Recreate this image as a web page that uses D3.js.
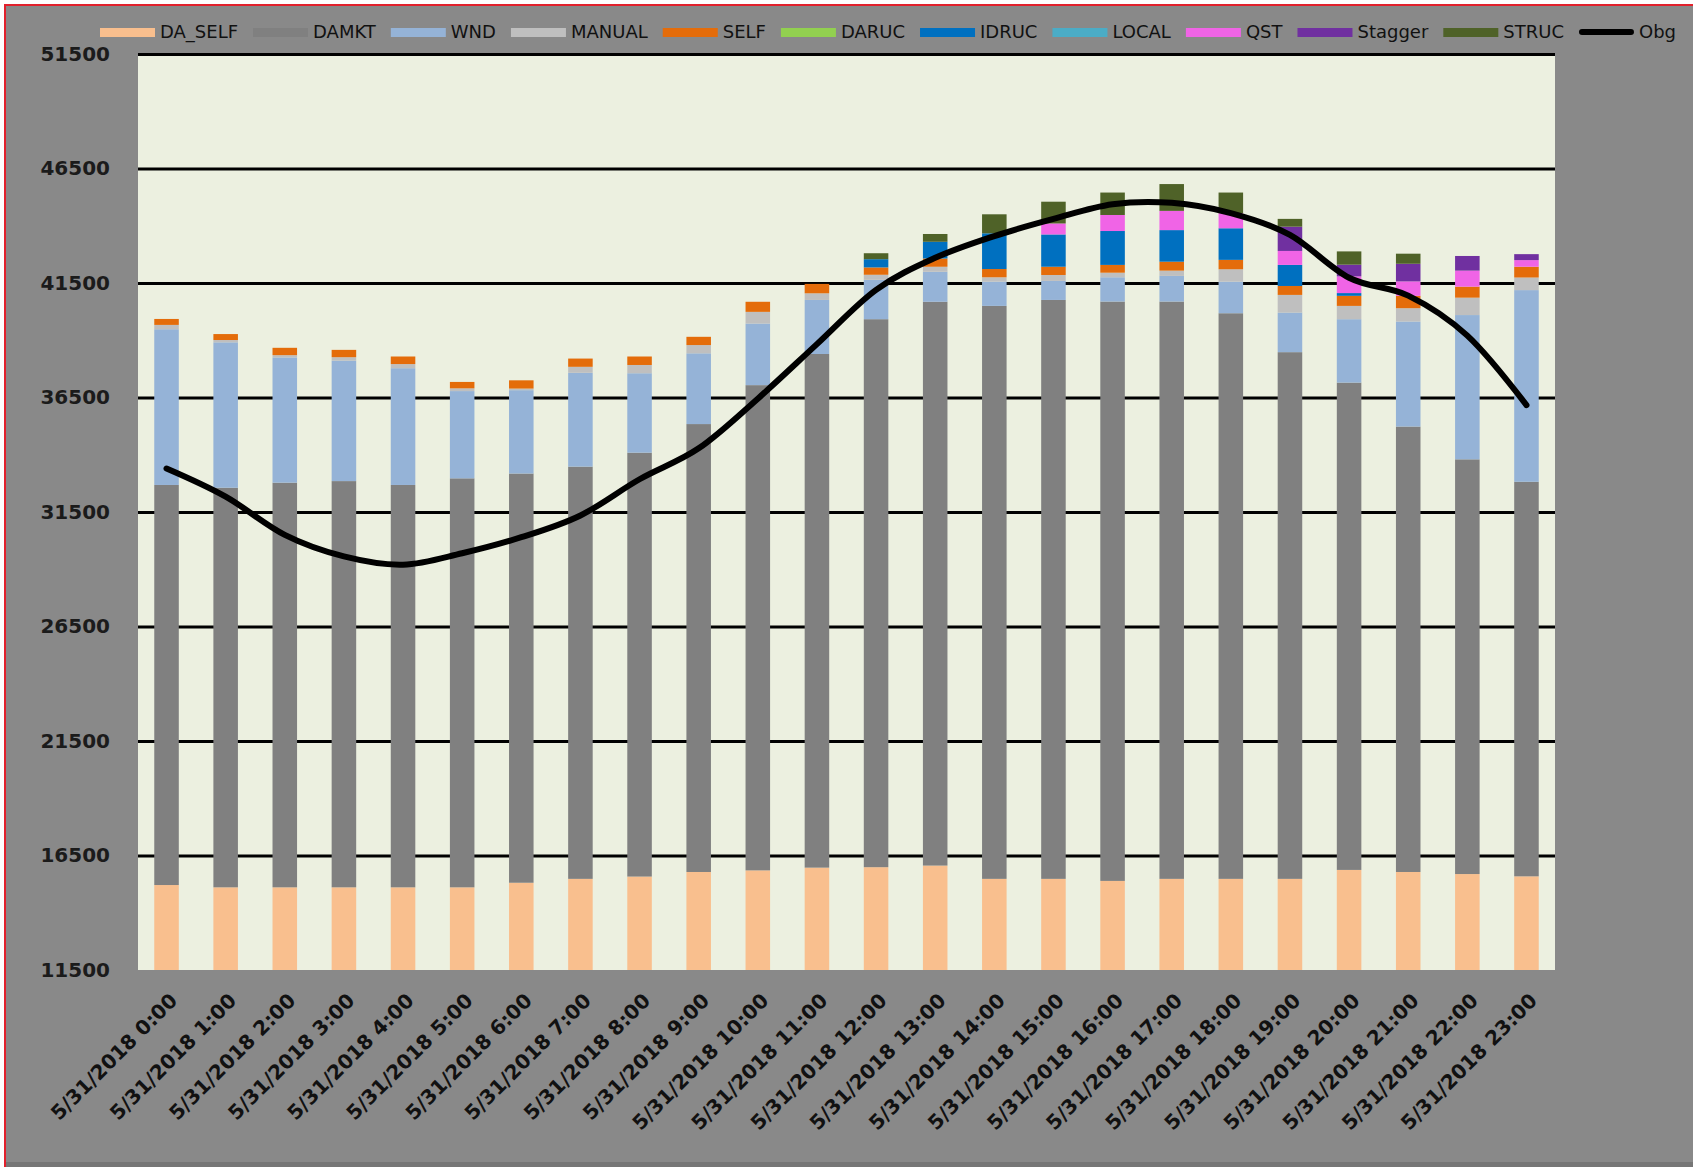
<!DOCTYPE html>
<html>
<head>
<meta charset="utf-8">
<script src="https://cdn.jsdelivr.net/npm/d3@7"></script>
<style>
  body { margin: 0; background: #fff; }
  svg { display: block; }
</style>
</head>
<body>
<svg id="chart" width="1693" height="1167"></svg>
<script>
// categories
const hours = ["5/31/2018 0:00","5/31/2018 1:00","5/31/2018 2:00","5/31/2018 3:00","5/31/2018 4:00","5/31/2018 5:00",
  "5/31/2018 6:00","5/31/2018 7:00","5/31/2018 8:00","5/31/2018 9:00","5/31/2018 10:00","5/31/2018 11:00",
  "5/31/2018 12:00","5/31/2018 13:00","5/31/2018 14:00","5/31/2018 15:00","5/31/2018 16:00","5/31/2018 17:00",
  "5/31/2018 18:00","5/31/2018 19:00","5/31/2018 20:00","5/31/2018 21:00","5/31/2018 22:00","5/31/2018 23:00"];

// stacked series
const daSelf  = [15210,15110,15110,15110,15110,15110,15310,15480,15580,15780,15850,15970,15990,16060,15480,15480,15390,15480,15480,15480,15870,15780,15690,15590];
const damkt   = [17470,17450,17670,17740,17570,17860,17870,18000,18510,19560,21190,22430,23930,24620,25020,25280,25300,25210,24700,23000,21280,19450,18110,17230];
const wnd     = [6800,6350,5470,5260,5100,3810,3640,4100,3470,3090,2690,2360,1720,1310,1060,830,1060,1120,1380,1730,2770,4590,6300,8370];
const manual  = [190,100,100,150,180,120,70,260,360,360,510,290,220,220,190,260,200,230,540,770,580,580,760,550];
const self    = [260,260,320,320,330,280,360,360,370,360,440,410,320,360,360,360,340,390,410,390,440,540,480,470];
const daruc   = [0,0,0,0,0,0,0,0,0,0,0,0,0,0,0,0,0,0,0,0,0,0,0,0];
const idruc   = [0,0,0,0,0,0,0,0,0,0,0,0,360,730,1560,1410,1480,1380,1380,920,120,0,0,0];
const local   = [0,0,0,0,0,0,0,0,0,0,0,0,0,0,0,0,0,0,0,0,0,0,0,0];
const qst     = [0,0,0,0,0,0,0,0,0,0,0,0,0,0,0,480,700,840,660,610,730,630,700,290];
const stagger = [0,0,0,0,0,0,0,0,0,0,0,0,0,0,0,0,0,0,0,1060,510,770,640,260];
const struc   = [0,0,0,0,0,0,0,0,0,0,0,0,260,340,830,950,980,1170,900,340,580,440,0,0];

// line series
const obg = [33400,32170,30500,29560,29200,29700,30400,31350,32930,34280,36450,38830,41200,42600,43550,44300,44940,45000,44550,43600,41730,40950,39200,36170];

// y axis ticks
const yTicks = [11500,16500,21500,26500,31500,36500,41500,46500,51500];

const seriesNames = ["DA_SELF","DAMKT","WND","MANUAL","SELF","DARUC","IDRUC","LOCAL","QST","Stagger","STRUC"];
const seriesValues = [daSelf, damkt, wnd, manual, self, daruc, idruc, local, qst, stagger, struc];
const seriesColors = ["#f9bf8e","#808080","#95b3d7","#bfbfbf","#e46c0a","#92d050","#0070c0","#4bacc6","#f064e6","#7030a0","#4f6228"];

const W = 1693, H = 1167;
const plot = {left: 138, right: 1555, top: 54, bottom: 970};

const svg = d3.select("#chart");

// background + red frame
svg.append("rect").attr("x", 5).attr("y", 5).attr("width", W + 10).attr("height", H + 10)
  .attr("fill", "#898989").attr("stroke", "#e2202c").attr("stroke-width", 2);
svg.append("rect").attr("x", 6).attr("y", H - 5).attr("width", W).attr("height", 5).attr("fill", "#767676");

svg.append("rect")
  .attr("x", plot.left).attr("y", plot.top)
  .attr("width", plot.right - plot.left).attr("height", plot.bottom - plot.top)
  .attr("fill", "#ecf0e0");

const x = d3.scaleBand()
  .domain(hours)
  .range([plot.left, plot.right])
  .paddingInner(0.585)
  .paddingOuter(0.275);

const y = d3.scaleLinear()
  .domain([11500, 51500])
  .range([plot.bottom, plot.top])
  .clamp(true);

// y axis with gridlines
const yAxis = svg.append("g")
  .attr("transform", "translate(" + plot.left + ",0)")
  .call(d3.axisLeft(y).tickValues(yTicks).tickSizeInner(-(plot.right - plot.left)).tickSizeOuter(0).tickPadding(28).tickFormat(d3.format("d")));
yAxis.select(".domain").remove();
yAxis.selectAll(".tick line")
  .attr("stroke", "#000").attr("stroke-width", 3)
  .filter(d => d === 11500).remove();
yAxis.selectAll(".tick text")
  .attr("fill", "#1b1b1b")
  .style("font-family", "'DejaVu Sans', Verdana, sans-serif")
  .style("font-weight", "bold")
  .style("font-size", "20px");

// stacked bars
const table = hours.map((h, i) => {
  const row = {hour: h};
  seriesNames.forEach((k, j) => { row[k] = seriesValues[j][i]; });
  return row;
});
const stacked = d3.stack().keys(seriesNames)(table);

svg.append("g").selectAll("g")
  .data(stacked)
  .join("g")
    .attr("fill", (d, i) => seriesColors[i])
  .selectAll("rect")
  .data(d => d.filter(p => p[1] - p[0] > 0))
  .join("rect")
    .attr("x", d => x(d.data.hour))
    .attr("y", d => y(d[1]))
    .attr("width", x.bandwidth())
    .attr("height", d => y(d[0]) - y(d[1]));

// Obg line
const line = d3.line()
  .x((d, i) => x(hours[i]) + x.bandwidth() / 2)
  .y(d => y(d))
  .curve(d3.curveCatmullRom.alpha(0));

svg.append("path")
  .datum(obg)
  .attr("fill", "none")
  .attr("stroke", "#000")
  .attr("stroke-width", 6)
  .attr("stroke-linecap", "round")
  .attr("stroke-linejoin", "round")
  .attr("d", line);

// x labels
svg.append("g").selectAll("text")
  .data(hours)
  .join("text")
    .attr("transform", d => "translate(" + (x(d) + x.bandwidth() / 2 + 12) + "," + (plot.bottom + 32) + ") rotate(-45)")
    .attr("text-anchor", "end")
    .attr("fill", "#111")
    .style("font-family", "'DejaVu Sans', Verdana, sans-serif")
    .style("font-weight", "bold")
    .style("font-size", "20px")
    .text(d => d);

// legend
const legendNames = seriesNames.concat(["Obg"]);
const legendColors = seriesColors.concat(["#000"]);
const legend = svg.append("g");
const items = legend.selectAll("g")
  .data(legendNames)
  .join("g");
items.append("text")
  .attr("y", 32)
  .attr("dy", "0.35em")
  .attr("fill", "#111")
  .style("font-family", "'DejaVu Sans', Verdana, sans-serif")
  .style("font-size", "18px")
  .text(d => d);

const swW = 55, swGap = 5;
const widths = [];
items.select("text").each(function() { widths.push(this.getComputedTextLength()); });
const legStart = 100, legEnd = 1676;
const used = d3.sum(widths) + legendNames.length * (swW + swGap);
const gap = (legEnd - legStart - used) / (legendNames.length - 1);
let cx = legStart;
items.each(function(d, i) {
  const g = d3.select(this);
  if (d === "Obg") {
    g.append("line").attr("x1", cx + 3).attr("x2", cx + swW - 3).attr("y1", 32).attr("y2", 32)
      .attr("stroke", "#000").attr("stroke-width", 6).attr("stroke-linecap", "round");
  } else {
    g.append("rect").attr("x", cx).attr("y", 28).attr("width", swW).attr("height", 9).attr("fill", legendColors[i]);
  }
  g.select("text").attr("x", cx + swW + swGap);
  cx += swW + swGap + widths[i] + gap;
});
</script>
</body>
</html>
